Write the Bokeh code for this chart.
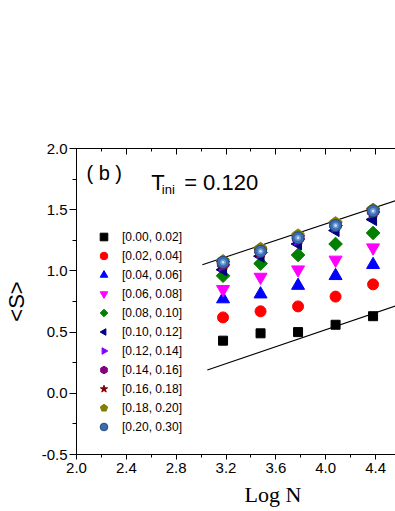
import numpy as np
from bokeh.plotting import figure
from bokeh.models import (Range1d, LinearAxis, SingleIntervalTicker, Label, Legend,
                          LegendItem, PrintfTickFormatter, CustomJSTickFormatter, Title)
from bokeh.embed import file_html
from bokeh.resources import INLINE

# ---------------- data ----------------
log_n = [3.176, 3.477, 3.778, 4.079, 4.380]
labels = ["[0.00, 0.02]", "[0.02, 0.04]", "[0.04, 0.06]", "[0.06, 0.08]",
          "[0.08, 0.10]", "[0.10, 0.12]", "[0.12, 0.14]", "[0.14, 0.16]",
          "[0.16, 0.18]", "[0.18, 0.20]", "[0.20, 0.30]"]
s_000_002 = [0.43, 0.49, 0.50, 0.56, 0.63]
s_002_004 = [0.62, 0.67, 0.71, 0.79, 0.89]
s_004_006 = [0.77, 0.81, 0.88, 0.96, 1.05]
s_006_008 = [0.85, 0.95, 1.01, 1.09, 1.19]
s_008_010 = [0.96, 1.06, 1.13, 1.22, 1.31]
s_010_012 = [1.01, 1.12, 1.22, 1.33, 1.42]
s_012_014 = [1.05, 1.15, 1.26, 1.37, 1.48]
s_014_016 = [1.06, 1.17, 1.27, 1.38, 1.49]
s_016_018 = [1.06, 1.16, 1.27, 1.38, 1.49]
s_018_020 = [1.08, 1.18, 1.29, 1.39, 1.50]
s_020_030 = [1.07, 1.16, 1.27, 1.37, 1.49]

upper_fit_x = [3.01, 4.56]
upper_fit_y = [1.05, 1.574]
lower_fit_x = [3.05, 4.56]
lower_fit_y = [0.19, 0.713]

x_ticks_interval = 0.4
y_ticks_interval = 0.5

# ---------------- figure ----------------
W, H = 395, 511
LEFT, TOP, BOTTOM = 75, 148, 57
frame_w = W - LEFT
x_end = 2.0 + frame_w / 125.0

p = figure(width=W, height=H, output_backend="svg", toolbar_location=None,
           x_range=Range1d(2.0, x_end), y_range=Range1d(-0.5, 2.0),
           min_border_left=LEFT, min_border_right=0, min_border_top=TOP,
           min_border_bottom=BOTTOM)
p.outline_line_color = None
p.xgrid.visible = False
p.ygrid.visible = False
p.background_fill_color = "white"
p.border_fill_color = "white"

FONT = "Liberation Sans"

xax = p.xaxis[0]
xax.ticker = SingleIntervalTicker(interval=x_ticks_interval, num_minor_ticks=2)
yax = p.yaxis[0]
yax.ticker = SingleIntervalTicker(interval=y_ticks_interval, num_minor_ticks=2)
for ax in (xax, yax):
    ax.formatter = PrintfTickFormatter(format="%.1f")
    ax.major_label_text_font = FONT
    ax.major_label_text_font_size = "15px"
    ax.major_label_text_color = "black"
    ax.axis_line_color = "black"
    ax.major_tick_line_color = "black"
    ax.minor_tick_line_color = "black"
    ax.major_tick_in = 0
    ax.minor_tick_in = 0
xax.major_tick_out = 5
xax.minor_tick_out = 3
xax.major_label_standoff = 3
yax.major_tick_out = 7
yax.minor_tick_out = 4
yax.major_label_standoff = 2
yax.axis_label = "<S>"
yax.axis_label_text_font = FONT
yax.axis_label_text_font_size = "22px"
yax.axis_label_text_font_style = "normal"
yax.axis_label_text_color = "black"
yax.axis_label_standoff = 10

top = LinearAxis(ticker=SingleIntervalTicker(interval=x_ticks_interval, num_minor_ticks=2),
                 formatter=CustomJSTickFormatter(code="return ''"))
top.major_label_standoff = 0
top.major_tick_in = 6
top.major_tick_out = 0
top.minor_tick_in = 3
top.minor_tick_out = 0
top.axis_line_color = "black"
p.add_layout(top, "above")

p.add_layout(Title(text="Log N", align="left", offset=168, standoff=8,
                   text_font="Liberation Serif", text_font_size="22px",
                   text_font_style="normal", text_color="black"), "below")

# fit lines
p.line(upper_fit_x, upper_fit_y, line_color="black", line_width=1.2)
p.line(lower_fit_x, lower_fit_y, line_color="black", line_width=1.2)

# series
r0 = p.scatter(log_n, s_000_002, marker="square", size=9, color="black")
r1 = p.scatter(log_n, s_002_004, marker="circle", size=11, color="#ff0000")
r2 = p.scatter(log_n, s_004_006, marker="triangle", size=13, color="#0000ff")
r3 = p.scatter(log_n, s_006_008, marker="inverted_triangle", size=13, color="#ff00ff")
r4 = p.ngon(log_n, s_008_010, radius=6.8, radius_units="screen", n=4, angle=0,
            color="#008000")
r5 = p.ngon(log_n, s_010_012, radius=7, radius_units="screen", n=3, angle=np.pi / 2,
            color="#000080")
r6 = p.ngon(log_n, s_012_014, radius=7, radius_units="screen", n=3, angle=-np.pi / 2,
            color="#8800ff")
r7 = p.ngon(log_n, s_014_016, radius=6.5, radius_units="screen", n=6, angle=0,
            color="#800080")
r8 = p.scatter(log_n, s_016_018, marker="star", size=14, color="#800000")
r9 = p.ngon(log_n, s_018_020, radius=6.5, radius_units="screen", n=5,
            angle=0, color="#808000")
r10 = p.scatter(log_n, s_020_030, marker="circle", size=12, fill_color="#3a6cb0",
                line_color="#23477f")
p.scatter(log_n, s_020_030, marker="circle", size=6, fill_color="#6f9bd6",
          line_color=None)
p.scatter(log_n, s_020_030, marker="circle", size=2.5, fill_color="#d8e6f7",
          line_color=None)

renderers = [r0, r1, r2, r3, r4, r5, r6, r7, r8, r9, r10]
items = [LegendItem(label=lab, renderers=[r]) for lab, r in zip(labels, renderers)]
legend = Legend(items=items, location=(18, 18), orientation="vertical",
                glyph_width=19, glyph_height=19, label_height=19, spacing=0,
                label_standoff=9, padding=0, margin=0,
                label_text_font=FONT, label_text_font_size="12px",
                label_text_color="black",
                background_fill_alpha=0, border_line_color=None)
p.add_layout(legend, "center")

# annotations inside the frame
p.add_layout(Label(x=2.08, y=1.80, text="( b )", text_font=FONT,
                   text_font_size="20px", text_color="black",
                   text_baseline="alphabetic"))
p.add_layout(Label(x=2.6, y=1.72, text="T", text_font=FONT,
                   text_font_size="22px", text_color="black",
                   text_baseline="alphabetic"))
p.add_layout(Label(x=2.685, y=1.665, text="ini", text_font=FONT,
                   text_font_size="13px", text_color="black",
                   text_baseline="alphabetic"))
p.add_layout(Label(x=2.864, y=1.72, text="= 0.120", text_font=FONT,
                   text_font_size="22px", text_color="black",
                   text_baseline="alphabetic"))

open("out.html", "w").write(file_html(p, INLINE))
